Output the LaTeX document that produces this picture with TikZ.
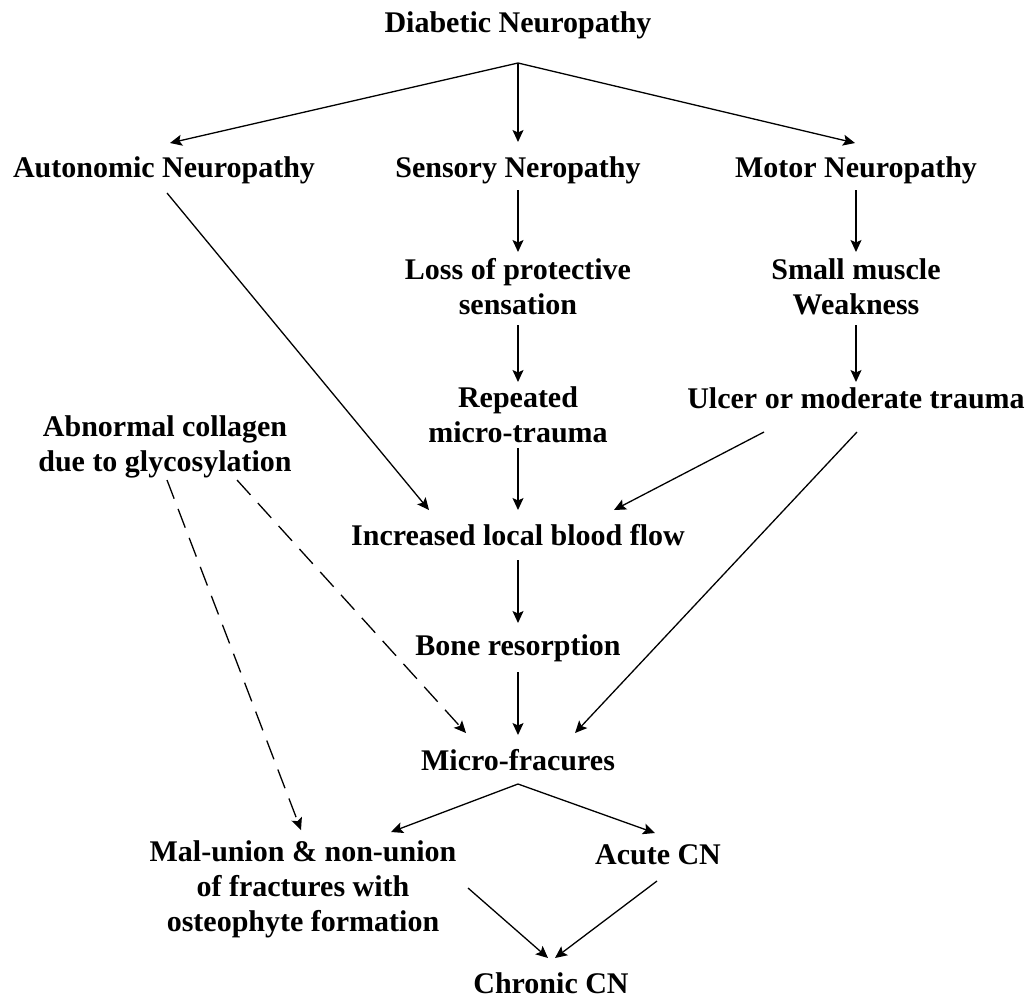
\documentclass[tikz,border=0pt]{standalone}
\usepackage{fontspec}
\setmainfont{Liberation Serif}
\usetikzlibrary{arrows.meta,calc}
\tikzset{
  lbl/.style={font=\fontsize{30}{35}\selectfont\bfseries, align=center, inner sep=0pt},
  arr/.style={line width=1.3pt, -{Stealth[length=12pt,width=11pt,inset=2.5pt]}},
  darr/.style={arr, dash pattern=on 20pt off 11pt},
}
\begin{document}
\begin{tikzpicture}[x=1pt,y=-1pt]
\useasboundingbox (0,0) rectangle (1032,999);
\node[lbl] (dn) at (518,25) {Diabetic Neuropathy};
\node[lbl] (an) at (164,170) {Autonomic Neuropathy};
\node[lbl] (sn) at (518,170) {Sensory Neropathy};
\node[lbl] (mn) at (856,170) {Motor Neuropathy};
\node[lbl] (lps) at (518,287) {Loss of protective\\sensation};
\node[lbl] (rmt) at (518,415) {Repeated\\micro-trauma};
\node[lbl] (ilbf) at (518,535) {Increased local blood flow};
\node[lbl] (br) at (518,648) {Bone resorption};
\node[lbl] (mf) at (518,760) {Micro-fracures};
\node[lbl] (mal) at (303,889) {Mal-union \& non-union\\of fractures with\\osteophyte formation};
\node[lbl] (acn) at (658,855) {Acute CN};
\node[lbl] (ccn) at (551,983) {Chronic CN};
\node[lbl] (smw) at (856,287) {Small muscle\\Weakness};
\node[lbl] (umt) at (856,398) {Ulcer or moderate trauma};
\node[lbl] (acg) at (165,447) {Abnormal collagen\\due to glycosylation};

\draw[arr] ($(dn)+(0,38)$) -- ($(an)+(6,-27)$);
\draw[arr] ($(dn)+(0,38)$) -- ($(sn)+(0,-28)$);
\draw[arr] ($(dn)+(0,38)$) -- ($(mn)+(-1,-27)$);
\draw[arr] ($(sn)+(0,20)$) -- ($(lps)+(0,-35)$);
\draw[arr] ($(lps)+(0,38)$) -- ($(rmt)+(0,-33)$);
\draw[arr] ($(rmt)+(0,33)$) -- ($(ilbf)+(0,-25)$);
\draw[arr] ($(ilbf)+(0,25)$) -- ($(br)+(0,-25)$);
\draw[arr] ($(br)+(0,24)$) -- ($(mf)+(0,-25)$);
\draw[arr] ($(mf)+(0,24)$) -- ($(mal)+(88,-57)$);
\draw[arr] ($(mf)+(0,24)$) -- ($(acn)+(-3,-22)$);
\draw[arr] ($(mal)+(165,-1)$) -- ($(ccn)+(-3,-25)$);
\draw[arr] ($(acn)+(-1,26)$) -- ($(ccn)+(4,-25)$);
\draw[arr] ($(mn)+(0,20)$) -- ($(smw)+(0,-35)$);
\draw[arr] ($(smw)+(0,38)$) -- ($(umt)+(0,-16)$);
\draw[arr] ($(umt)+(-92,34)$) -- ($(ilbf)+(96,-25)$);
\draw[arr] ($(umt)+(1,34)$) -- ($(mf)+(57,-27)$);
\draw[arr] ($(an)+(3,23)$) -- ($(ilbf)+(-89,-25)$);
\draw[darr] ($(acg)+(72,33)$) -- ($(mf)+(-52,-27)$);
\draw[darr] ($(acg)+(2,33)$) -- ($(mal)+(-2,-59)$);
\end{tikzpicture}
\end{document}
